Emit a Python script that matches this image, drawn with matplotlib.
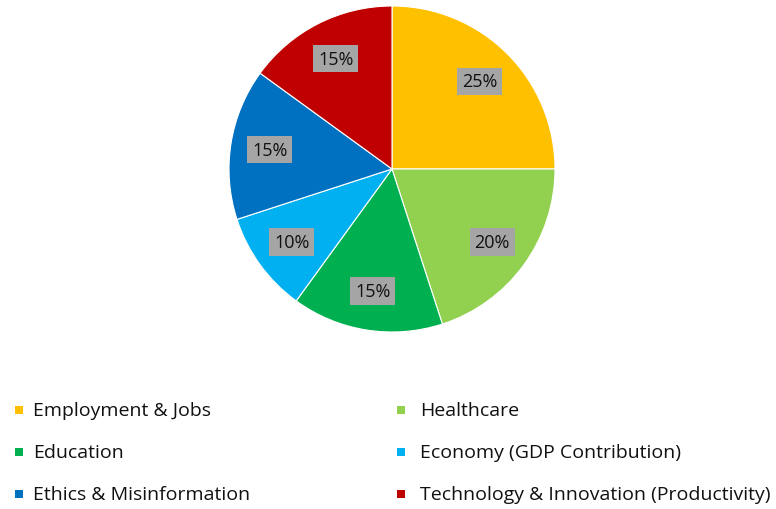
import matplotlib.pyplot as plt
from matplotlib.patches import Rectangle

# Share of AI impact by area
labels = ['Employment & Jobs', 'Healthcare', 'Education',
          'Economy (GDP Contribution)', 'Ethics & Misinformation',
          'Technology & Innovation (Productivity)']
shares = [25, 20, 15, 10, 15, 15]
colors = ['#FFC000', '#92D050', '#00B050', '#00B0F0', '#0070C0', '#C00000']

plt.rcParams['font.family'] = ['Open Sans', 'DejaVu Sans']

W, H = 776, 510
fig = plt.figure(figsize=(W / 100, H / 100), dpi=100)

# pie placed in pixel coords: centre (392,170), radius 163
cx, cy, r = 392, 170, 163
ax = fig.add_axes([(cx - r) / W, (H - cy - r) / H, 2 * r / W, 2 * r / H])
wedges, texts, autotexts = ax.pie(
    shares, colors=colors, startangle=90, counterclock=False,
    autopct='%d%%', pctdistance=0.76,
    wedgeprops=dict(edgecolor='white', linewidth=0.8),
    textprops=dict(fontsize=13, color='#111111'))
for t in autotexts:
    t.set_bbox(dict(facecolor='#A5A5A5', edgecolor='none', pad=3.5))
ax.set_xlim(-1, 1)
ax.set_ylim(-1, 1)
ax.set_aspect('equal')
ax.axis('off')

# legend, two columns filled row-wise
col_x = [15, 397]
text_gap = [18, 23]
row_y = [411, 453, 495]
for i, (lab, col) in enumerate(zip(labels, colors)):
    row, c = divmod(i, 2)
    x, y = col_x[c], row_y[row]
    fig.patches.append(Rectangle((x / W, (H - y - 4) / H), 8 / W, 8 / H,
                                 transform=fig.transFigure, facecolor=col,
                                 edgecolor='none'))
    fig.text((x + text_gap[c]) / W, (H - y) / H, lab, fontsize=14,
             va='center', ha='left', color='#111111')

fig.savefig('out.png', dpi=100)
